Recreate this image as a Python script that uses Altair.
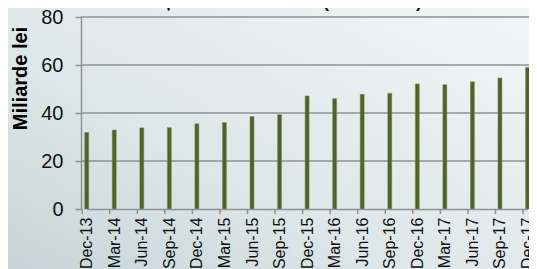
import altair as alt
import pandas as pd

quarters = ["Dec-13", "Mar-14", "Jun-14", "Sep-14", "Dec-14", "Mar-15", "Jun-15", "Sep-15",
            "Dec-15", "Mar-16", "Jun-16", "Sep-16", "Dec-16", "Mar-17", "Jun-17", "Sep-17", "Dec-17"]
values = [31.9, 32.9, 33.8, 33.9, 35.5, 36.0, 38.5, 39.3,
          47.1, 46.0, 47.8, 48.2, 52.1, 51.8, 53.0, 54.6, 59.0]
y_ticks = [0, 20, 40, 60, 80]
title_text = "Evoluția activelor totale (trimestrial)"
y_title = "Miliarde lei"

FONT = "Liberation Sans"
GRID = "#8e9294"

df = pd.DataFrame({"q": quarters, "v": values})
grid_df = pd.DataFrame({"g": y_ticks[1:]})

xscale = alt.Scale(type="point", domain=quarters, range=[5.7, 446.5], padding=0)
yscale = alt.Scale(domain=[0, 80])

x_axis = alt.Axis(labelAngle=270, labelFontSize=16, labelFont=FONT, labelColor="#111111",
                  ticks=False, tickSize=0, labelPadding=8, domainColor=GRID,
                  domainWidth=1.5, grid=False, zindex=1, title=None)
y_axis = alt.Axis(values=y_ticks, labelFontSize=20, labelFont=FONT, labelColor="#111111",
                  tickSize=6, tickColor=GRID, tickWidth=1.5, labelPadding=12, domainColor=GRID,
                  domainWidth=1.5, grid=False, zindex=1, title=y_title,
                  titleFont=FONT, titleFontSize=20, titleFontWeight="bold",
                  titleColor="#000000", titleX=-61, titleY=61,
                  titleAlign="center", titleBaseline="middle", titleAngle=270)

grad = alt.Gradient(
    gradient="linear",
    stops=[alt.GradientStop(color="#c2d1d6", offset=0),
           alt.GradientStop(color="#dde6e8", offset=0.4),
           alt.GradientStop(color="#f4f7f7", offset=1)],
    x1=0, y1=1, x2=1, y2=0,
)

bg = alt.Chart(pd.DataFrame({"a": [0]})).mark_rect(fill=grad).encode(
    x=alt.value(-90), x2=alt.value(470), y=alt.value(-30), y2=alt.value(280)
)

grid = alt.Chart(grid_df).mark_rule(color=GRID, strokeWidth=1.5).encode(
    y=alt.Y("g:Q", scale=yscale, axis=y_axis, title=y_title), x=alt.value(0), x2=alt.value(448)
)

bars = alt.Chart(df).mark_bar(size=4, color="#4f6228", stroke="#7d8f55", strokeWidth=0.5).encode(
    x=alt.X("q:N", scale=xscale, sort=quarters, axis=x_axis, title=None),
    y=alt.Y("v:Q", scale=yscale, axis=y_axis, title=y_title),
)

xticks = alt.Chart(df).mark_rule(color=GRID, strokeWidth=1.5, xOffset=-4.5).encode(
    x=alt.X("q:N", scale=xscale, sort=quarters, axis=x_axis, title=None),
    y=alt.value(192), y2=alt.value(197),
)

title = alt.Chart(pd.DataFrame({"t": [title_text]})).mark_text(
    font=FONT, fontSize=18, fontWeight="bold", color="#111111", align="center", baseline="alphabetic"
).encode(text="t:N", x=alt.value(188), y=alt.value(-10))

chart = alt.layer(bg, grid, bars, xticks, title).properties(
    width=448, height=192,
    autosize=alt.AutoSizeParams(type="none"),
    padding={"left": 73, "top": 9, "right": 0, "bottom": 60},
    background="#e3eaec",
).configure_view(stroke=None)

chart.save("out.html", embed_options={"renderer": "svg", "actions": False})
